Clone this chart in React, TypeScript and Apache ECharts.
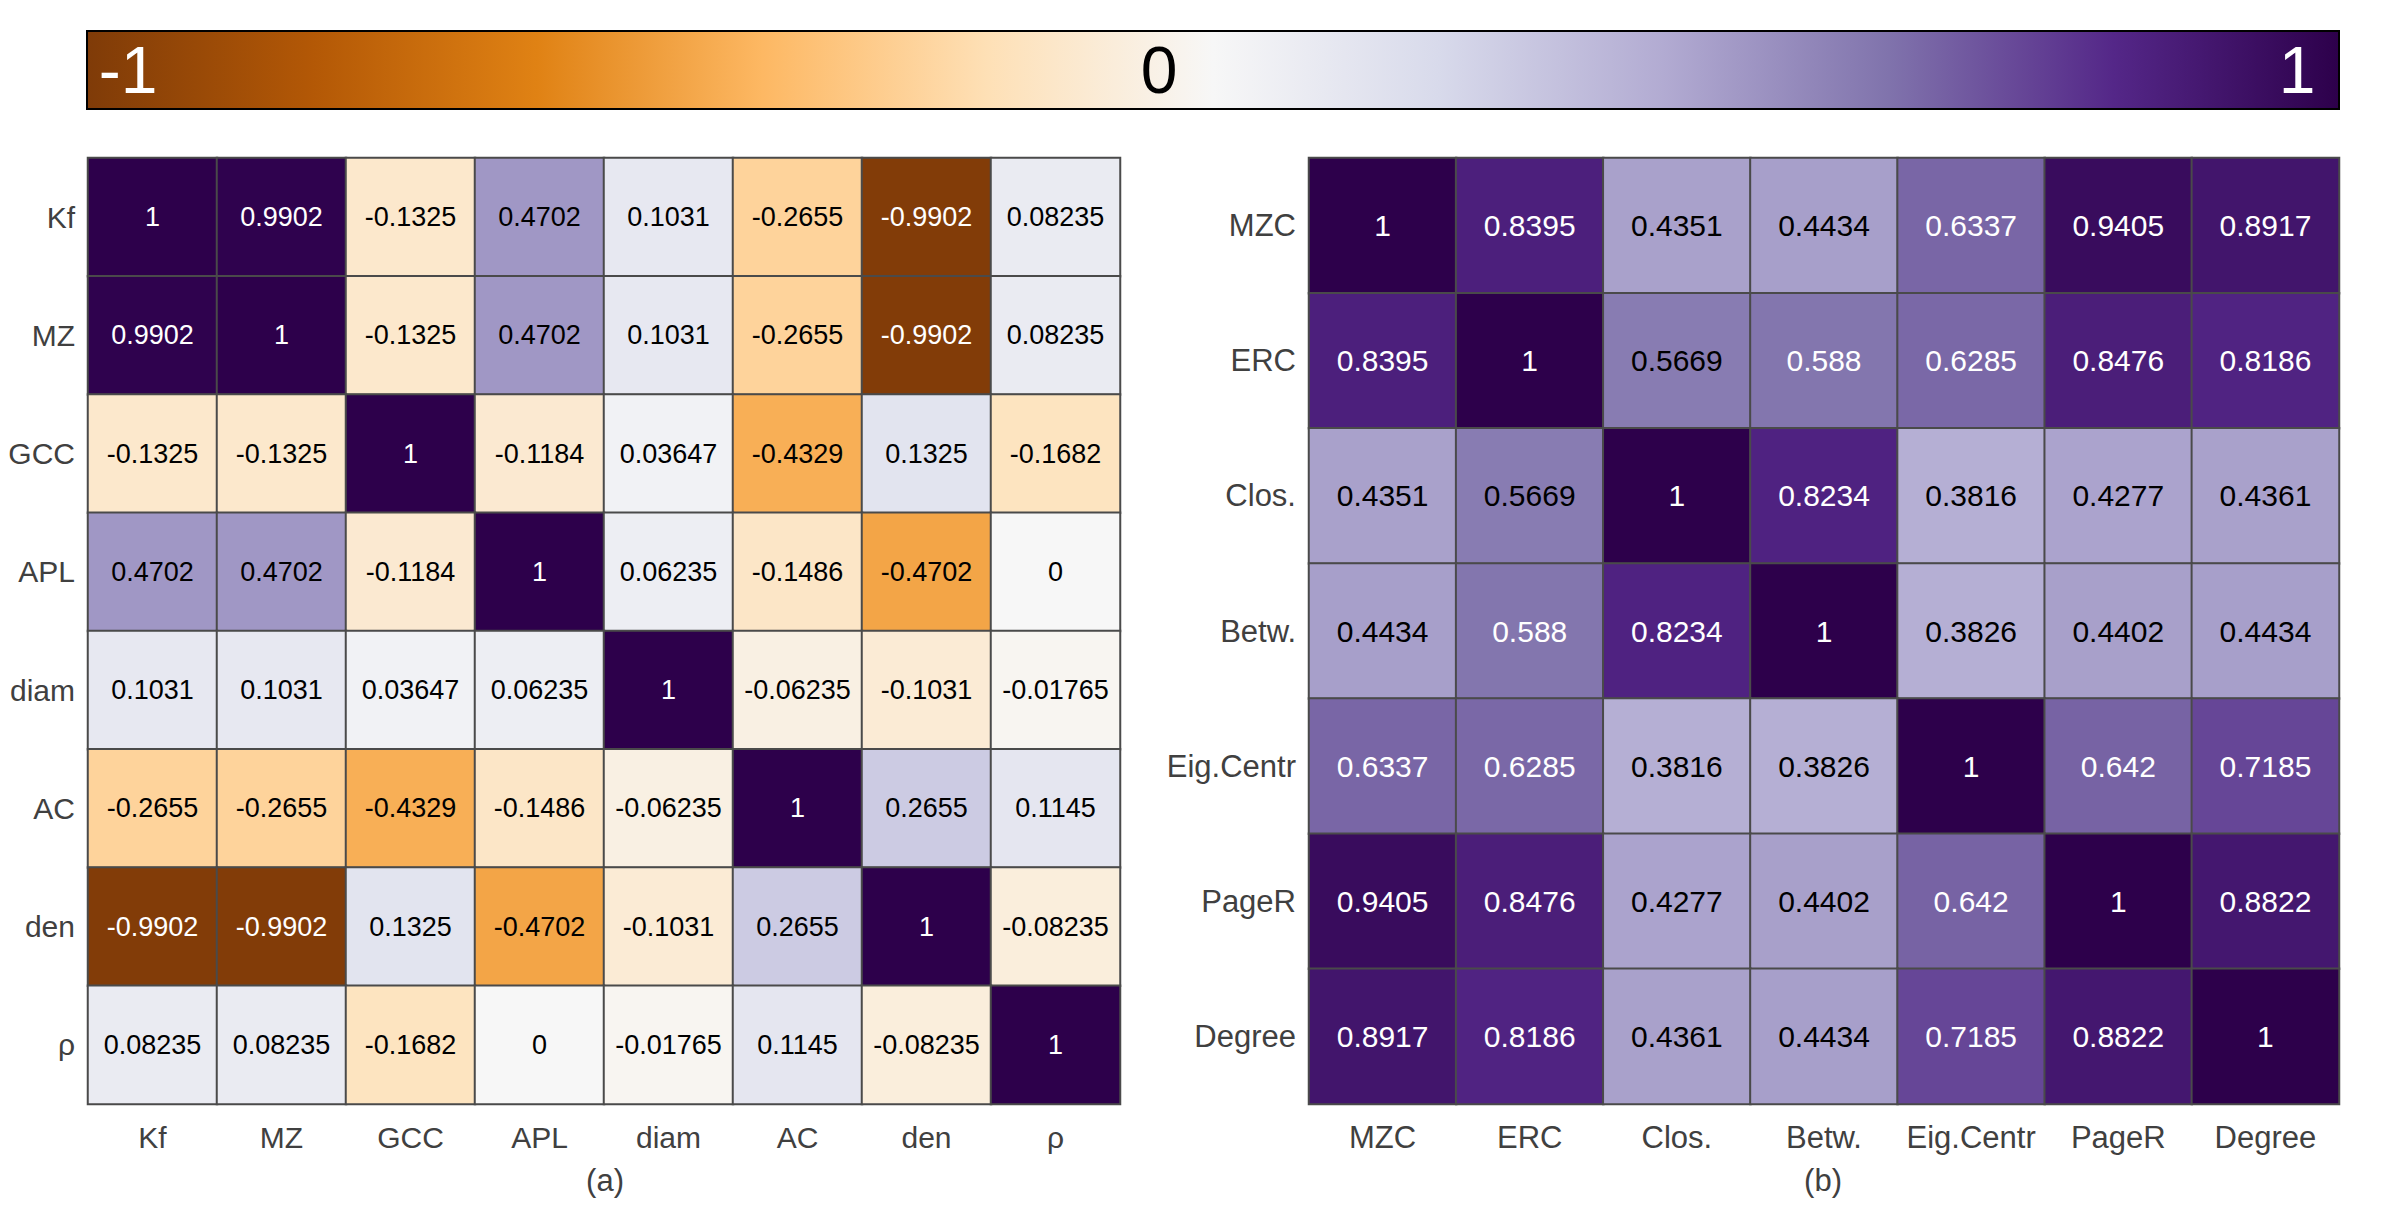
import React, { useEffect, useRef } from "react";
import * as echarts from "echarts";

const leftLabels = ["Kf", "MZ", "GCC", "APL", "diam", "AC", "den", "ρ"];
const leftMatrix = [
  [1, 0.9902, -0.1325, 0.4702, 0.1031, -0.2655, -0.9902, 0.08235],
  [0.9902, 1, -0.1325, 0.4702, 0.1031, -0.2655, -0.9902, 0.08235],
  [-0.1325, -0.1325, 1, -0.1184, 0.03647, -0.4329, 0.1325, -0.1682],
  [0.4702, 0.4702, -0.1184, 1, 0.06235, -0.1486, -0.4702, 0],
  [0.1031, 0.1031, 0.03647, 0.06235, 1, -0.06235, -0.1031, -0.01765],
  [-0.2655, -0.2655, -0.4329, -0.1486, -0.06235, 1, 0.2655, 0.1145],
  [-0.9902, -0.9902, 0.1325, -0.4702, -0.1031, 0.2655, 1, -0.08235],
  [0.08235, 0.08235, -0.1682, 0, -0.01765, 0.1145, -0.08235, 1],
];

const rightLabels = ["MZC", "ERC", "Clos.", "Betw.", "Eig.Centr", "PageR", "Degree"];
const rightMatrix = [
  [1, 0.8395, 0.4351, 0.4434, 0.6337, 0.9405, 0.8917],
  [0.8395, 1, 0.5669, 0.588, 0.6285, 0.8476, 0.8186],
  [0.4351, 0.5669, 1, 0.8234, 0.3816, 0.4277, 0.4361],
  [0.4434, 0.588, 0.8234, 1, 0.3826, 0.4402, 0.4434],
  [0.6337, 0.6285, 0.3816, 0.3826, 1, 0.642, 0.7185],
  [0.9405, 0.8476, 0.4277, 0.4402, 0.642, 1, 0.8822],
  [0.8917, 0.8186, 0.4361, 0.4434, 0.7185, 0.8822, 1],
];

const colorbarTicks = ["-1", "0", "1"];
const captions = ["(a)", "(b)"];

const puOr = [
  "#7f3b08", "#b35806", "#e08214", "#fdb863", "#fee0b6", "#f7f7f7",
  "#d8daeb", "#b2abd2", "#8073ac", "#542788", "#2d004b",
];

const FONT = 'Arial, "Liberation Sans", Helvetica, sans-serif';

function toData(matrix: number[][]) {
  const out: any[] = [];
  matrix.forEach((row, r) => {
    row.forEach((v, c) => {
      out.push({
        value: [c, r, v],
        label: { color: Math.abs(v) > 0.575 ? "#ffffff" : "#000000" },
      });
    });
  });
  return out;
}

export default function App() {
  const ref = useRef<HTMLDivElement>(null);
  useEffect(() => {
    if (!ref.current) return;
    const chart = echarts.init(ref.current, null, { renderer: "svg" });

    const axisLabelStyle = (size: number) => ({
      color: "#404040",
      fontSize: size,
      fontFamily: FONT,
      interval: 0,
    });

    const option: any = {
      animation: false,
      backgroundColor: "#ffffff",
      grid: [
        { left: 88, top: 158, width: 1032, height: 946, show: true, borderColor: "#404040", borderWidth: 2, backgroundColor: "transparent" },
        { left: 1309, top: 158, width: 1030, height: 946, show: true, borderColor: "#404040", borderWidth: 2, backgroundColor: "transparent" },
      ],
      xAxis: [
        {
          type: "category", gridIndex: 0, data: leftLabels,
          axisLine: { show: false }, axisTick: { show: false }, splitLine: { show: false },
          axisLabel: { ...axisLabelStyle(30), margin: 18 },
        },
        {
          type: "category", gridIndex: 1, data: rightLabels,
          axisLine: { show: false }, axisTick: { show: false }, splitLine: { show: false },
          axisLabel: { ...axisLabelStyle(31), margin: 18 },
        },
      ],
      yAxis: [
        {
          type: "category", gridIndex: 0, data: leftLabels, inverse: true,
          axisLine: { show: false }, axisTick: { show: false }, splitLine: { show: false },
          axisLabel: { ...axisLabelStyle(30), margin: 13 },
        },
        {
          type: "category", gridIndex: 1, data: rightLabels, inverse: true,
          axisLine: { show: false }, axisTick: { show: false }, splitLine: { show: false },
          axisLabel: { ...axisLabelStyle(31), margin: 13 },
        },
      ],
      visualMap: {
        type: "continuous",
        show: false,
        min: -1,
        max: 1,
        dimension: 2,
        seriesIndex: [0, 1],
        inRange: { color: puOr },
      },
      series: [
        {
          type: "heatmap",
          xAxisIndex: 0,
          yAxisIndex: 0,
          data: toData(leftMatrix),
          itemStyle: { borderColor: "#4a4a4a", borderWidth: 2 },
          label: {
            show: true,
            fontSize: 27,
            fontFamily: FONT,
            formatter: (p: any) => String(p.value[2]),
          },
          emphasis: { disabled: true },
        },
        {
          type: "heatmap",
          xAxisIndex: 1,
          yAxisIndex: 1,
          data: toData(rightMatrix),
          itemStyle: { borderColor: "#4a4a4a", borderWidth: 2 },
          label: {
            show: true,
            fontSize: 30,
            fontFamily: FONT,
            formatter: (p: any) => String(p.value[2]),
          },
          emphasis: { disabled: true },
        },
      ],
      graphic: [
        {
          type: "rect",
          shape: { x: 87, y: 31, width: 2252, height: 78 },
          style: {
            fill: {
              type: "linear", x: 0, y: 0, x2: 1, y2: 0,
              colorStops: puOr.map((c, i) => ({ offset: i / (puOr.length - 1), color: c })),
            },
            stroke: "#000000",
            lineWidth: 2,
          },
          z: 10,
        },
        {
          type: "text", x: 128, y: 70, z: 11,
          style: { text: colorbarTicks[0], fill: "#ffffff", fontSize: 66, fontFamily: FONT, textAlign: "center", textVerticalAlign: "middle" },
        },
        {
          type: "text", x: 1159, y: 70, z: 11,
          style: { text: colorbarTicks[1], fill: "#000000", fontSize: 66, fontFamily: FONT, textAlign: "center", textVerticalAlign: "middle" },
        },
        {
          type: "text", x: 2297, y: 70, z: 11,
          style: { text: colorbarTicks[2], fill: "#ffffff", fontSize: 66, fontFamily: FONT, textAlign: "center", textVerticalAlign: "middle" },
        },
        {
          type: "text", x: 605, y: 1180, z: 11,
          style: { text: captions[0], fill: "#404040", fontSize: 31, fontFamily: FONT, textAlign: "center", textVerticalAlign: "middle" },
        },
        {
          type: "text", x: 1823, y: 1180, z: 11,
          style: { text: captions[1], fill: "#404040", fontSize: 31, fontFamily: FONT, textAlign: "center", textVerticalAlign: "middle" },
        },
      ],
    };

    chart.setOption(option);
    return () => chart.dispose();
  }, []);

  return (
    <div
      ref={ref}
      style={{ position: "fixed", left: 0, top: 0, width: 2400, height: 1220, background: "#fff" }}
    />
  );
}
